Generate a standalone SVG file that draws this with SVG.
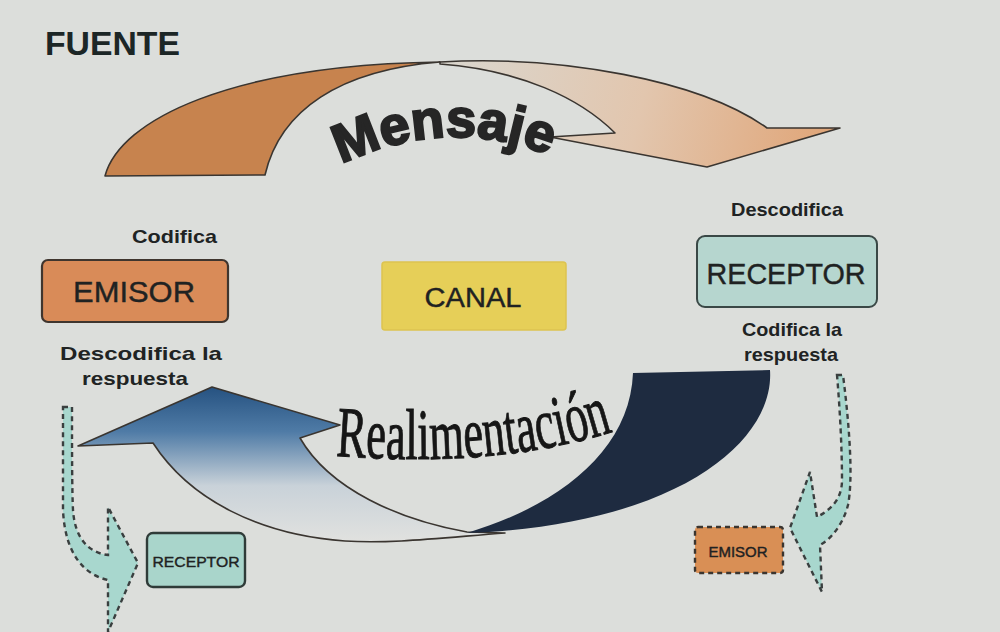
<svg xmlns="http://www.w3.org/2000/svg" width="1000" height="632" viewBox="0 0 1000 632">
<defs>
  <linearGradient id="gMsg" x1="440" y1="60" x2="840" y2="160" gradientUnits="userSpaceOnUse">
    <stop offset="0" stop-color="#dad7cf"/>
    <stop offset="0.5" stop-color="#e2c6ae"/>
    <stop offset="1" stop-color="#e0a374"/>
  </linearGradient>
  <linearGradient id="gFb" x1="0" y1="385" x2="0" y2="540" gradientUnits="userSpaceOnUse">
    <stop offset="0" stop-color="#24507f"/>
    <stop offset="0.3" stop-color="#4f7ba6"/>
    <stop offset="0.65" stop-color="#c9d2d9"/>
    <stop offset="1" stop-color="#e0e1df"/>
  </linearGradient>
  <style>
    .lbl{font-family:"Liberation Sans",Arial,sans-serif;font-weight:bold;fill:#202323}
    .box{font-family:"Liberation Sans",Arial,sans-serif;fill:#1f2222;stroke:#1f2222;stroke-width:0.4}
    .arrow{stroke:#3a3530;stroke-width:1.6;stroke-linejoin:round}
    .dash{fill:#a8d7ce;stroke:#3a3f3f;stroke-width:2.4;stroke-dasharray:5 4}
  </style>
</defs>
<rect width="1000" height="632" fill="#dcdedb"/>

<g id="connectors">
  <g id="mensaje-arrow">
    <path class="arrow" fill="url(#gMsg)" d="M440,62 C560,55 700,80 767,128 L840,128 L707,167 L550,137 L615,133 C580,98 520,70 440,64 Z"/>
    <path class="arrow" fill="#c7834e" d="M105,176 C120,120 230,65 440,62 C340,70 280,110 265,175 Z"/>
  </g>
  <g id="realimentacion-arrow">
    <path class="arrow" fill="url(#gFb)" d="M78,446 L212,387 L340,425 L300,438 C330,490 400,520 467,532 L505,533 C440,538 390,544 345,541 C260,535 190,500 153,443 Z"/>
    <path fill="#1e2b40" d="M633,373 L770,370 C775,440 680,525 467,533 C560,505 630,450 633,373 Z"/>
  </g>
  <path id="dash-left" class="dash" d="M63,407 L72,407 C72,450 72,490 73,510 C75,540 90,553 108,555 L108,507 L138,563 L108,632 L108,580 C85,575 65,555 63,510 C63,480 63,440 63,407 Z"/>
  <path id="dash-right" class="dash" d="M837,375 L843,375 C850,430 853,480 848,505 C843,525 830,540 820,545 L822,592 L790,528 L810,472 L817,517 C830,510 842,500 842,480 C842,450 840,410 837,375 Z"/>
</g>

<g id="fuente">
  <text x="45" y="55" font-family="'Liberation Sans',Arial,sans-serif" font-weight="bold" font-size="34" fill="#1c2626" textLength="135" lengthAdjust="spacingAndGlyphs">FUENTE</text>
</g>

<g id="mensaje-label">
  <path id="pMsg" d="M336,167 Q450,110 562,161" fill="none"/>
  <text font-family="'Liberation Sans',Arial,sans-serif" font-weight="bold" font-size="54" fill="#262626" stroke="#262626" stroke-width="2.2" textLength="214" lengthAdjust="spacingAndGlyphs"><textPath href="#pMsg" startOffset="6">Mensaje</textPath></text>
</g>

<g id="realimentacion-label">
  <path id="pFb" d="M336,456 C420,462 520,462 618,430" fill="none"/>
  <text font-family="'Liberation Serif','Times New Roman',serif" font-size="72" fill="#161616" stroke="#161616" stroke-width="1" textLength="280" lengthAdjust="spacingAndGlyphs"><textPath href="#pFb">Realimentación</textPath></text>
</g>

<g id="emisor">
  <rect x="42" y="260" width="186" height="62" rx="6" fill="#d98b58" stroke="#3f352e" stroke-width="2.2"/>
  <text class="box" x="134" y="302" font-size="30" text-anchor="middle" textLength="122" lengthAdjust="spacingAndGlyphs">EMISOR</text>
  <text class="lbl" x="132" y="243" font-size="19" textLength="85" lengthAdjust="spacingAndGlyphs">Codifica</text>
  <text class="lbl" x="60" y="360" font-size="19" textLength="162" lengthAdjust="spacingAndGlyphs">Descodifica la</text>
  <text class="lbl" x="82" y="385" font-size="19" textLength="106" lengthAdjust="spacingAndGlyphs">respuesta</text>
</g>

<g id="canal">
  <rect x="382" y="262" width="184" height="68" rx="3" fill="#e6cf58" stroke="#ddc450" stroke-width="1.5"/>
  <text class="box" x="473" y="307" font-size="27" text-anchor="middle" textLength="97" lengthAdjust="spacingAndGlyphs">CANAL</text>
</g>

<g id="receptor">
  <rect x="697" y="236" width="180" height="71" rx="8" fill="#b6d6cf" stroke="#3a4846" stroke-width="2"/>
  <text class="box" x="786" y="284" font-size="29" text-anchor="middle" textLength="159" lengthAdjust="spacingAndGlyphs">RECEPTOR</text>
  <text class="lbl" x="731" y="216" font-size="19" textLength="112" lengthAdjust="spacingAndGlyphs">Descodifica</text>
  <text class="lbl" x="742" y="336" font-size="19" textLength="100" lengthAdjust="spacingAndGlyphs">Codifica la</text>
  <text class="lbl" x="744" y="361" font-size="19" textLength="94" lengthAdjust="spacingAndGlyphs">respuesta</text>
</g>

<g id="receptor-small">
  <rect x="147" y="533" width="98" height="54" rx="6" fill="#a9d5cb" stroke="#2f3b38" stroke-width="2.4"/>
  <text class="box" x="196" y="567" font-size="15" text-anchor="middle" stroke-width="0.2" textLength="87" lengthAdjust="spacingAndGlyphs">RECEPTOR</text>
</g>

<g id="emisor-small">
  <rect x="695" y="527" width="88" height="46" rx="3" fill="#d98f55" stroke="#3a3530" stroke-width="2.4" stroke-dasharray="5 4"/>
  <text class="box" x="738" y="557" font-size="14" text-anchor="middle" stroke-width="0.2" textLength="59" lengthAdjust="spacingAndGlyphs">EMISOR</text>
</g>
</svg>
